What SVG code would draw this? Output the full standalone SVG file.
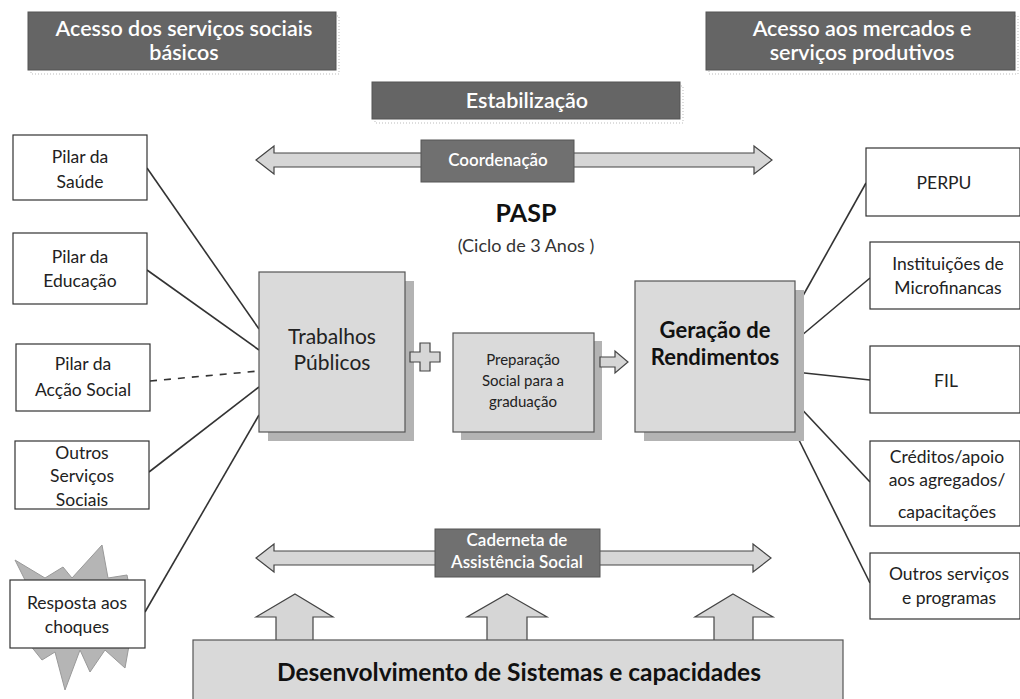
<svg xmlns="http://www.w3.org/2000/svg" width="1020" height="699" viewBox="0 0 1020 699">
<style>
.hdr{fill:#656565;stroke:#555;stroke-width:1}
.hdrsh{fill:none;stroke:#bbb;stroke-width:1;stroke-dasharray:1 2}
.ht{font-family:Lato,"Liberation Sans",sans-serif;font-size:21.5px;font-weight:600;fill:#fff;text-anchor:middle}
.box{fill:#fff;stroke:#333;stroke-width:1.2}
.t{font-family:Lato,"Liberation Sans",sans-serif;font-size:17.5px;fill:#222;text-anchor:middle}
.core{fill:#dadada;stroke:#555;stroke-width:1.2}
.shadow{fill:#b3b3b3}
.arrow{fill:#d6d6d6;stroke:#444;stroke-width:1.2}
.lbl{fill:#707070;stroke:#555;stroke-width:1}
.lt{font-family:Lato,"Liberation Sans",sans-serif;font-size:17px;font-weight:600;fill:#fff;text-anchor:middle}
.ln{stroke:#333;stroke-width:1.6;fill:none}
</style>
<rect width="1020" height="699" fill="#fff"/>

<g id="hdr-left">
<rect class="hdrsh" x="31" y="16" width="308" height="58"/>
<rect class="hdr" x="28" y="12" width="308" height="58"/>
<text class="ht" x="184" y="36">Acesso dos serviços sociais</text>
<text class="ht" x="184" y="60">básicos</text>
</g>
<g id="hdr-mid">
<rect class="hdrsh" x="375" y="86" width="308" height="37"/>
<rect class="hdr" x="372" y="82" width="308" height="37"/>
<text class="ht" x="527" y="108">Estabilização</text>
</g>
<g id="hdr-right">
<rect class="hdrsh" x="709" y="16" width="309" height="58"/>
<rect class="hdr" x="706" y="12" width="309" height="58"/>
<text class="ht" x="862" y="36">Acesso aos mercados e</text>
<text class="ht" x="862" y="60">serviços produtivos</text>
</g>

<g id="connectors">
<line class="ln" x1="147" y1="168" x2="259" y2="329"/>
<line class="ln" x1="147" y1="270" x2="259" y2="350"/>
<line class="ln" x1="150" y1="381" x2="259" y2="371" stroke-dasharray="7 7"/>
<line class="ln" x1="149" y1="472" x2="259" y2="387"/>
<line class="ln" x1="145" y1="612" x2="259" y2="415"/>
<line class="ln" x1="795" y1="310" x2="866" y2="183"/>
<line class="ln" x1="795" y1="341" x2="870" y2="278"/>
<line class="ln" x1="795" y1="372" x2="870" y2="380"/>
<line class="ln" x1="795" y1="402" x2="870" y2="482"/>
<line class="ln" x1="795" y1="432" x2="870" y2="583"/>
</g>

<g id="coordenacao">
<polygon class="arrow" points="256,160 274,146 274,153 754,153 754,146 772,160 754,174 754,167 274,167 274,174"/>
<rect class="lbl" x="421" y="140" width="153" height="42"/>
<text class="lt" x="498" y="166">Coordenação</text>
</g>

<g id="pasp">
<text x="526" y="222" font-family="Lato,'Liberation Sans',sans-serif" font-size="25" font-weight="bold" fill="#111" text-anchor="middle">PASP</text>
<text x="526" y="252" font-family="Lato,'Liberation Sans',sans-serif" font-size="18" fill="#333" text-anchor="middle">(Ciclo de 3 Anos )</text>
</g>

<g id="pilar-saude">
<rect class="box" x="13" y="135" width="134" height="65"/>
<text class="t" x="80" y="163">Pilar da</text>
<text class="t" x="80" y="188">Saúde</text>
</g>
<g id="pilar-educacao">
<rect class="box" x="13" y="233" width="134" height="71"/>
<text class="t" x="80" y="263">Pilar da</text>
<text class="t" x="80" y="287">Educação</text>
</g>
<g id="pilar-accao">
<rect class="box" x="16" y="344" width="134" height="67"/>
<text class="t" x="83" y="370">Pilar da</text>
<text class="t" x="83" y="396">Acção Social</text>
</g>
<g id="outros-servicos">
<rect class="box" x="15" y="441" width="134" height="68"/>
<text class="t" x="82" y="459">Outros</text>
<text class="t" x="82" y="482">Serviços</text>
<text class="t" x="82" y="506">Sociais</text>
</g>
<g id="resposta">
<polygon points="25,580 15,560 45,578 63,567 72,578 102,545 108,578 127,575 130,590 130,640 125,668 105,650 90,672 80,650 65,690 55,652 42,660 30,645 20,600" fill="#b5b5b5" stroke="#999" stroke-width="1"/>
<rect class="box" x="10" y="580" width="135" height="68"/>
<text class="t" x="77" y="609">Resposta aos</text>
<text class="t" x="77" y="633">choques</text>
</g>

<g id="trabalhos">
<rect class="shadow" x="268" y="281" width="146" height="160"/>
<rect class="core" x="259" y="272" width="146" height="160"/>
<text x="332" y="344" font-family="Lato,'Liberation Sans',sans-serif" font-size="21" fill="#222" text-anchor="middle">Trabalhos</text>
<text x="332" y="370" font-family="Lato,'Liberation Sans',sans-serif" font-size="21" fill="#222" text-anchor="middle">Públicos</text>
</g>
<g id="plus">
<polygon class="arrow" points="420,343 430,343 430,352 440,352 440,362 430,362 430,371 420,371 420,362 410,362 410,352 420,352"/>
</g>
<g id="preparacao">
<rect class="shadow" x="461" y="341" width="141" height="99"/>
<rect class="core" x="453" y="333" width="141" height="99"/>
<text x="523" y="365" font-family="Lato,'Liberation Sans',sans-serif" font-size="15" fill="#222" text-anchor="middle">Preparação</text>
<text x="523" y="386" font-family="Lato,'Liberation Sans',sans-serif" font-size="15" fill="#222" text-anchor="middle">Social para a</text>
<text x="523" y="407" font-family="Lato,'Liberation Sans',sans-serif" font-size="15" fill="#222" text-anchor="middle">graduação</text>
</g>
<g id="arrow-small">
<polygon class="arrow" points="600,357 615,357 615,351 628,362 615,373 615,367 600,367"/>
</g>
<g id="geracao">
<rect class="shadow" x="644" y="290" width="160" height="151"/>
<rect class="core" x="635" y="281" width="160" height="151"/>
<text x="715" y="338" font-family="Lato,'Liberation Sans',sans-serif" font-size="22" font-weight="bold" fill="#111" text-anchor="middle">Geração de</text>
<text x="715" y="365" font-family="Lato,'Liberation Sans',sans-serif" font-size="22" font-weight="bold" fill="#111" text-anchor="middle">Rendimentos</text>
</g>

<g id="perpu">
<rect class="box" x="866" y="148" width="154" height="68"/>
<text class="t" x="944" y="189">PERPU</text>
</g>
<g id="microfinancas">
<rect class="box" x="870" y="242" width="150" height="67"/>
<text class="t" x="948" y="270">Instituições de</text>
<text class="t" x="948" y="294">Microfinancas</text>
</g>
<g id="fil">
<rect class="box" x="870" y="346" width="150" height="67"/>
<text class="t" x="946" y="387">FIL</text>
</g>
<g id="creditos">
<rect class="box" x="870" y="441" width="150" height="85"/>
<text class="t" x="947" y="463">Créditos/apoio</text>
<text class="t" x="947" y="486">aos agregados/</text>
<text class="t" x="947" y="518">capacitações</text>
</g>
<g id="outros-programas">
<rect class="box" x="870" y="553" width="150" height="66"/>
<text class="t" x="949" y="580">Outros serviços</text>
<text class="t" x="949" y="604">e programas</text>
</g>

<g id="caderneta">
<polygon class="arrow" points="256,558 274,544 274,551 753,551 753,544 771,558 753,572 753,565 274,565 274,572"/>
<rect class="lbl" x="435" y="529" width="165" height="48"/>
<text class="lt" x="517" y="546" font-size="14">Caderneta de</text>
<text class="lt" x="517" y="568" font-size="14">Assistência Social</text>
</g>

<g id="up-arrows">
<polygon class="arrow" points="295,594 333,617 313,617 313,641 276,641 276,617 256,617"/>
<polygon class="arrow" points="507,594 547,617 527,617 527,641 487,641 487,617 467,617"/>
<polygon class="arrow" points="733,594 773,617 753,617 753,641 714,641 714,617 695,617"/>
</g>

<g id="desenvolvimento">
<rect x="193" y="640" width="650" height="62" fill="#d9d9d9" stroke="#555" stroke-width="1.2"/>
<text x="519" y="681" font-family="Lato,'Liberation Sans',sans-serif" font-size="24.5" font-weight="bold" fill="#111" text-anchor="middle">Desenvolvimento de Sistemas e capacidades</text>
</g>
</svg>
